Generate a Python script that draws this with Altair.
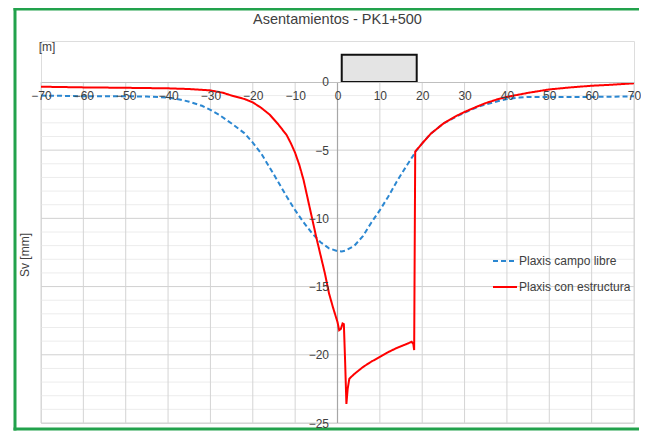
import altair as alt
import pandas as pd

# ---- data ----
series_names = ["Plaxis campo libre", "Plaxis con estructura"]
series_colors = ["#2b87d1", "#ff0000"]

x_free = [-70, -65, -60, -55, -50, -45, -40, -37, -35, -32, -30, -28, -25, -22, -20, -18,
          -15, -12, -10, -8, -6, -4, -2, 0, 1, 2, 4, 6, 8, 10, 12, 14, 16, 18.7,
          20, 22, 25, 28, 30, 33, 35, 38, 40, 43, 45, 50, 55, 60, 65, 70]
y_free = [-1.0, -1.02, -1.05, -1.05, -1.05, -1.07, -1.15, -1.3, -1.45, -1.75, -2.05, -2.4, -3.05, -3.75, -4.45, -5.25,
          -6.8, -8.4, -9.4, -10.3, -11.1, -11.75, -12.2, -12.4, -12.42, -12.35, -12.0, -11.3, -10.3, -9.4, -8.4, -7.3, -6.3, -5.0,
          -4.5, -3.8, -3.05, -2.55, -2.25, -1.85, -1.65, -1.4, -1.25, -1.15, -1.1, -1.1, -1.1, -1.1, -1.08, -1.05]

x_struct = [-70, -60, -50, -40, -35, -30, -27, -25, -22, -20, -18, -16, -14, -12, -11, -10,
            -9, -8, -7, -6, -5, -4, -3, -2, -1, 0, 0.4, 0.8, 1.2, 1.5, 1.8, 2.1, 2.4, 2.8,
            4, 6, 8, 10, 12, 14, 16, 17.5, 17.9, 18.1, 18.35, 19.2, 20, 22, 25, 28, 30, 33,
            35, 38, 40, 45, 50, 55, 60, 65, 70]
y_struct = [-0.35, -0.4, -0.43, -0.47, -0.52, -0.62, -0.8, -1.0, -1.25, -1.5, -1.9, -2.4, -3.1, -3.9, -4.5, -5.2,
            -6.1, -7.2, -8.6, -10.0, -11.4, -12.7, -14.0, -15.5, -16.6, -17.6, -18.2, -18.1, -17.7, -17.75, -20.5, -23.6, -22.5, -21.75,
            -21.4, -20.9, -20.5, -20.15, -19.8, -19.5, -19.25, -19.05, -19.2, -19.65, -5.1, -4.8, -4.5, -3.8, -3.05, -2.5, -2.2, -1.8,
            -1.55, -1.25, -1.1, -0.8, -0.55, -0.4, -0.28, -0.2, -0.1]

x_ticks = list(range(-70, 71, 10))
y_labels = [0, -5, -10, -15, -20, -25]
y_minor = [v for v in range(-1, -25, -1) if v % 5 != 0]
box_x = [1.0, 18.7]
box_y = [0.0, 2.0]

title_text = "Asentamientos - PK1+500"
unit_text = "[m]"
ytitle_text = "Sv [mm]"

FONT = "Liberation Sans"
TXT = "#404040"
GREEN = "#22a24c"
W, H = 593, 382

# ---- tables ----
lines = pd.concat([
    pd.DataFrame({"s": series_names[0], "x": x_free, "y": y_free, "i": range(len(x_free))}),
    pd.DataFrame({"s": series_names[1], "x": x_struct, "y": y_struct, "i": range(len(x_struct))}),
])
vgrid = pd.DataFrame({"x": x_ticks, "y": 0, "y2": -25})
hminor = pd.DataFrame({"y": y_minor, "x": -70, "x2": 70})
hmajor = pd.DataFrame({"y": [v for v in y_labels if v != 0], "x": -70, "x2": 70})
box = pd.DataFrame({"x": [box_x[0]], "x2": [box_x[1]], "y": [box_y[0]], "y2": [box_y[1]]})
one = pd.DataFrame({"a": [0]})

xs = alt.Scale(domain=[-70, 70], nice=False, zero=False)
ys = alt.Scale(domain=[-25, 3], nice=False, zero=False)

# chart-area border (left, top, bottom edges; right edge lies outside the picture)
frame_left = alt.Chart(one).mark_rule(color=GREEN, strokeWidth=3).encode(
    x=alt.value(-26), y=alt.value(-33.5), y2=alt.value(389.5))
frame_top = alt.Chart(one).mark_rule(color=GREEN, strokeWidth=3).encode(
    x=alt.value(-27.5), x2=alt.value(W + 5), y=alt.value(-32))
frame_bottom = alt.Chart(one).mark_rule(color=GREEN, strokeWidth=3).encode(
    x=alt.value(-27.5), x2=alt.value(W + 5), y=alt.value(388))

vg = alt.Chart(vgrid).mark_rule(color="#d4d4d4", strokeWidth=1).encode(
    x=alt.X("x:Q", scale=xs), y=alt.Y("y:Q", scale=ys), y2="y2:Q")
hmin = alt.Chart(hminor).mark_rule(color="#ececec", strokeWidth=1).encode(
    y=alt.Y("y:Q", scale=ys), x=alt.X("x:Q", scale=xs), x2="x2:Q")
hmaj = alt.Chart(hmajor).mark_rule(color="#d0d0d0", strokeWidth=1).encode(
    y=alt.Y("y:Q", scale=ys), x=alt.X("x:Q", scale=xs), x2="x2:Q")
yaxis_line = alt.Chart(pd.DataFrame({"x": [0], "y": [0], "y2": [-25]})).mark_rule(
    color="#a6a6a6", strokeWidth=1.2).encode(x=alt.X("x:Q", scale=xs), y=alt.Y("y:Q", scale=ys), y2="y2:Q")

box_mark = alt.Chart(box).mark_rect(fill="#e4e4e4", stroke="#111111", strokeWidth=2).encode(
    x=alt.X("x:Q", scale=xs), x2="x2:Q", y=alt.Y("y:Q", scale=ys), y2="y2:Q")

legend_cfg = dict(orient="none", legendX=451, legendY=207, title=None,
                  symbolType="stroke", symbolSize=576, symbolStrokeWidth=2,
                  labelFontSize=12, labelFont=FONT, labelColor=TXT,
                  rowPadding=7, labelOffset=1, padding=0)
color_enc = alt.Color("s:N", scale=alt.Scale(domain=series_names, range=series_colors),
                      legend=alt.Legend(**legend_cfg))
dash_enc = alt.StrokeDash("s:N", scale=alt.Scale(domain=series_names, range=[[5, 3], [1, 0]]),
                          legend=alt.Legend(**legend_cfg))

x_axis = alt.Axis(orient="bottom", offset=-341, values=x_ticks, grid=False, ticks=False,
                  domainColor="#bfbfbf", labelFont=FONT, labelFontSize=12, labelColor=TXT,
                  labelPadding=8, title=None, zindex=1, labelFlush=False)
y_axis = alt.Axis(orient="left", offset=-W / 2, values=y_labels, grid=False, ticks=False, domain=False,
                  labelFont=FONT, labelFontSize=12, labelColor=TXT, labelPadding=9, title=None, zindex=1)

def series_layer(name):
    return alt.Chart(lines).transform_filter(alt.datum.s == name).mark_line(strokeWidth=2).encode(
        x=alt.X("x:Q", scale=xs, axis=x_axis),
        y=alt.Y("y:Q", scale=ys, axis=y_axis),
        color=color_enc, strokeDash=dash_enc, order="i:Q")

free_line = series_layer(series_names[0])
struct_line = series_layer(series_names[1])

title_mark = alt.Chart(one).mark_text(text=title_text, font=FONT, fontSize=14.5, color=TXT,
                                      align="center", baseline="middle").encode(
    x=alt.value(W / 2), y=alt.value(-21))
unit_mark = alt.Chart(one).mark_text(text=unit_text, font=FONT, fontSize=12, color=TXT,
                                     align="center", baseline="middle").encode(
    x=alt.value(6), y=alt.value(6))
ytitle_mark = alt.Chart(one).mark_text(text=ytitle_text, font=FONT, fontSize=12, color=TXT,
                                       align="center", baseline="middle", angle=270).encode(
    x=alt.value(-16), y=alt.value(214))

chart = alt.layer(frame_left, frame_top, frame_bottom, hmin, hmaj, vg, yaxis_line, box_mark,
                  free_line, struct_line, title_mark, unit_mark, ytitle_mark).properties(
    width=W, height=H,
    padding={"left": 33, "top": 33, "right": 7, "bottom": 8},
    autosize=alt.AutoSizeParams(type="none"),
).configure_view(stroke=None).configure(background="white")

chart.save("out.html", embed_options={"renderer": "svg", "actions": False})
